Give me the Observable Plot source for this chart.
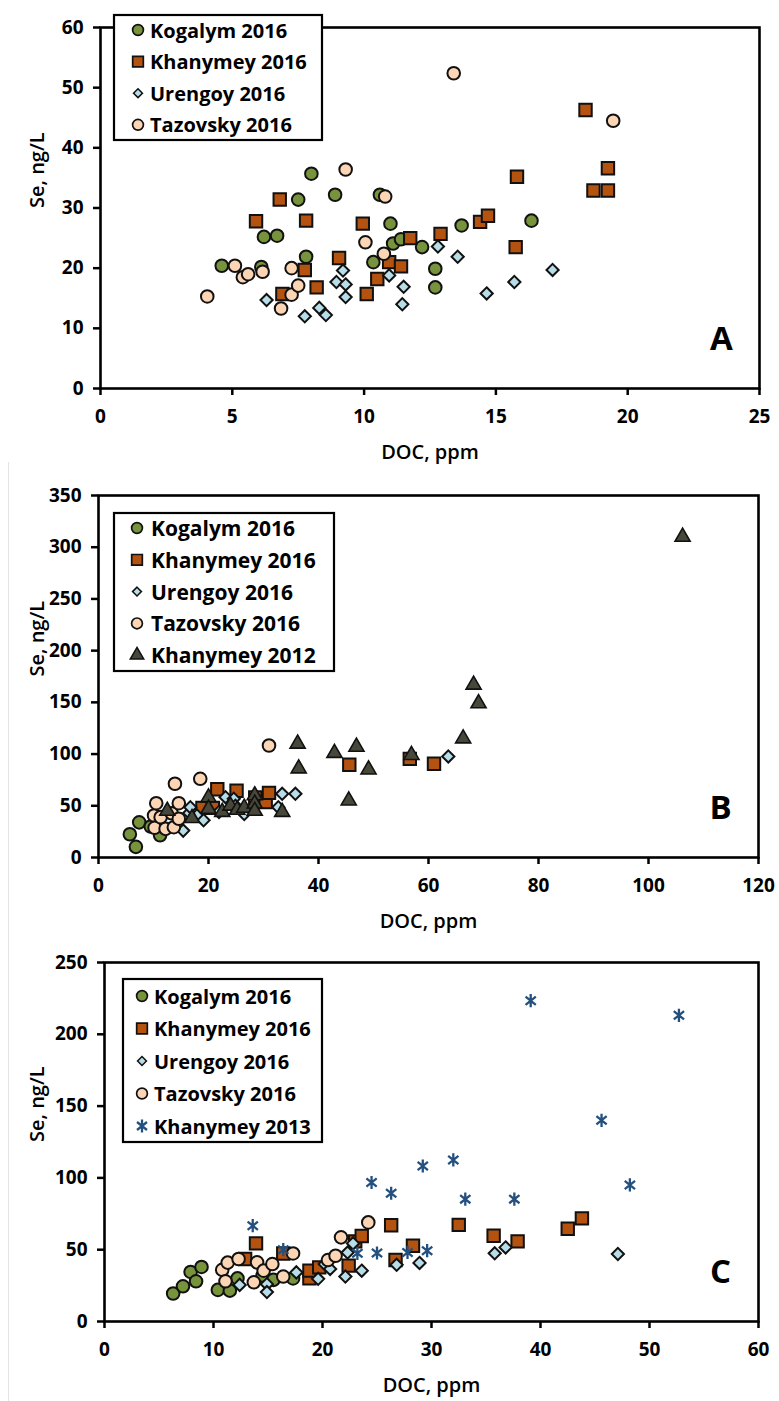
<!DOCTYPE html>
<html><head><meta charset="utf-8">
<script src="https://cdn.jsdelivr.net/npm/d3@7"></script>
<script src="https://cdn.jsdelivr.net/npm/@observablehq/plot@0.6"></script>
<style>
body{margin:0;background:#fff;width:779px;height:1401px;position:relative;overflow:hidden;font-family:"Open Sans",sans-serif}
.panel{position:absolute;left:0}
.legend{position:absolute;overflow:visible}
.edge{position:absolute;background:#e4e4e4}
</style></head><body>
<div class="edge" style="left:8px;top:462px;width:1px;height:939px"></div>
<div id="pA" class="panel" style="top:0px"></div>
<div id="pB" class="panel" style="top:465px"></div>
<div id="pC" class="panel" style="top:932px"></div>
<script>
// ---------- DATA (DOC ppm, Se ng/L) ----------
const seriesNames = ["Kogalym 2016","Khanymey 2016","Urengoy 2016","Tazovsky 2016","Khanymey 2012","Khanymey 2013"];

const A_kogalym = [[4.6,20.4],[6.1,20.2],[6.2,25.2],[6.7,25.4],[7.5,31.4],[7.8,21.9],[8.0,35.7],[8.9,32.2],[10.35,21.0],[10.6,32.2],[11.0,27.4],[11.1,24.1],[11.4,24.8],[12.2,23.5],[12.7,19.9],[12.7,16.8],[13.7,27.1],[16.35,27.9]];
const A_khanymey = [[5.9,27.8],[6.8,31.4],[6.9,15.7],[7.75,19.7],[7.8,27.9],[8.2,16.8],[9.05,21.7],[9.95,27.4],[10.1,15.7],[10.5,18.2],[10.95,21.0],[11.4,20.3],[11.75,25.0],[12.9,25.7],[14.4,27.7],[14.7,28.7],[15.75,23.5],[15.8,35.2],[18.4,46.3],[18.7,32.9],[19.25,32.9],[19.25,36.6]];
const A_urengoy = [[6.3,14.7],[7.75,12.0],[8.3,13.4],[8.55,12.2],[8.95,17.7],[9.2,19.6],[9.3,17.3],[9.3,15.2],[10.95,18.8],[11.5,16.9],[11.45,14.0],[12.8,23.6],[13.55,21.9],[14.65,15.8],[15.7,17.7],[17.15,19.7]];
const A_tazovsky = [[4.05,15.3],[5.1,20.4],[5.4,18.5],[5.6,19.0],[6.15,19.4],[6.85,13.3],[7.25,20.0],[7.25,15.6],[7.5,17.1],[9.3,36.4],[10.05,24.3],[10.75,22.4],[10.8,31.9],[13.4,52.4],[19.45,44.5]];

const B_kogalym = [[5.7,22.5],[6.8,10.3],[7.4,34],[9.5,30],[11.2,21.5]];
const B_khanymey = [[18.9,48],[20.8,48],[21.6,66],[25.1,64.5],[28.5,58],[30.4,53.5],[31,62.5],[45.6,89.6],[56.6,95.4],[61,90.6]];
const B_urengoy = [[15.4,26],[16.5,43],[16.7,48.6],[17.9,40.6],[19.1,36],[21.9,44],[23.1,58.3],[24.6,56.8],[24.9,50],[26.5,42],[32.7,48.6],[33.4,61.6],[35.8,61.6],[63.6,97.7]];
const B_tazovsky = [[10.1,40.6],[10.2,28.7],[10.5,52.5],[11.3,39],[12.2,27.7],[13.3,42.8],[13.7,29.3],[13.9,71.3],[14.6,52.5],[14.6,37.4],[18.5,76.1],[31,108.3]];
const B_khanymey2012 = [[12.5,45],[17,38],[20,58],[20,47],[22.5,44],[24,50],[25.2,46],[26.5,48],[28.4,60],[28.4,52],[28.4,45],[33.4,44],[36.2,110],[36.4,86],[42.9,101],[45.5,55],[46.9,107],[49.1,85],[56.9,99],[66.3,115],[68.2,167],[69.1,149],[106.2,310]];

const C_kogalym = [[6.3,19.5],[7.2,24.5],[7.9,34.5],[8.4,28],[8.9,38],[10.4,22],[11.5,21.5],[12.2,30],[14.5,32],[15.5,29],[17.3,30]];
const C_khanymey = [[12.9,43.5],[13.9,54.4],[16.4,47.4],[18.8,30],[18.8,35.4],[19.7,37.7],[22.4,38.9],[23.0,55.8],[23.6,59.5],[26.3,67],[26.7,42.8],[28.3,52.8],[32.5,67.3],[35.7,59.7],[37.9,55.8],[42.5,64.6],[43.8,71.8]];
const C_urengoy = [[12.4,25.5],[14.9,26],[14.9,20.5],[17.6,34.2],[19.6,29.7],[20.2,40],[20.7,36.6],[22.1,31.3],[22.3,48],[22.8,54.4],[23.6,35.4],[26.8,39.5],[28.9,40.8],[35.8,47.5],[36.8,51.6],[47.1,47]];
const C_tazovsky = [[10.8,36],[11.1,28],[11.3,41],[12.3,43.5],[13.7,27.3],[14.0,41.2],[14.6,35.4],[15.4,40],[16.4,31.3],[17.3,47.4],[20.5,42.8],[21.2,45.8],[21.7,58.6],[24.2,69]];
const C_khanymey2013 = [[13.6,66.7],[16.4,50],[23.2,47.5],[24.5,96.8],[25,47.7],[26.3,89.3],[27.8,48.1],[29.2,108.3],[29.6,49.3],[32,112.5],[33.1,85.2],[37.6,85.2],[39.1,223.4],[45.6,140.1],[48.2,95.1],[52.7,213.2]];

const A_xTicks = [0,5,10,15,20,25];
const A_yTicks = [0,10,20,30,40,50,60];
const B_xTicks = [0,20,40,60,80,100,120];
const B_yTicks = [0,50,100,150,200,250,300,350];
const C_xTicks = [0,10,20,30,40,50,60];
const C_yTicks = [0,50,100,150,200,250];

const xTitle = "DOC, ppm";
const yTitle = "Se, ng/L";

// Excel-style star marker: vertical bar plus an X
const starSymbol = {
  draw(context, size){
    const r = Math.sqrt(size/Math.PI), a = r*0.78;
    context.moveTo(0,-r); context.lineTo(0,r);
    context.moveTo(-a,-a*0.8); context.lineTo(a,a*0.8);
    context.moveTo(-a,a*0.8); context.lineTo(a,-a*0.8);
  }
};

// ---------- STYLES ----------
const STY = {
  "Kogalym 2016":  {symbol:"circle",   fill:"#77933C", stroke:"#111", sw:2,   r:6.3, lr:5.4, lsw:1.7},
  "Khanymey 2016": {symbol:"square",   fill:"#B4520F", stroke:"#111", sw:2,   r:7.0, lr:6.0, lsw:1.7},
  "Urengoy 2016":  {symbol:"diamond2", fill:"#B7DEE8", stroke:"#111", sw:2,   r:5.5, lr:4.0, lsw:1.5},
  "Tazovsky 2016": {symbol:"circle",   fill:"#FCD5B5", stroke:"#111", sw:2,   r:6.3, lr:5.4, lsw:1.7},
  "Khanymey 2012": {symbol:"triangle", fill:"#48483A", stroke:"#111", sw:1.6, r:5.6, lr:5.0, lsw:1.5},
  "Khanymey 2013": {symbol:"star",     fill:"none",    stroke:"#24507F", sw:2.3, r:6.6, lr:6.4, lsw:2.3}
};
const d3sym = {circle:d3.symbolCircle, square:d3.symbolSquare, diamond2:d3.symbolDiamond2, triangle:d3.symbolTriangle, star:starSymbol};
const plotSym = s => s === "star" ? starSymbol : s;

function panel(cfg){
  const {el,height,mt,mb,ml,mr,xDomain,xTicks,yDomain,yTicks,series,letter} = cfg;
  const marks = [
    Plot.axisX({ticks:xTicks, tickSize:7, tickPadding:14, strokeWidth:2.5, label:null, tickFormat:d=>String(d)}),
    Plot.axisY({ticks:yTicks, tickSize:7, tickPadding:10, strokeWidth:2.5, label:null, tickFormat:d=>String(d)}),
  ];
  series.forEach(([name,data])=>{
    const s = STY[name];
    marks.push(Plot.dot(data,{x:d=>d[0], y:d=>d[1], symbol:plotSym(s.symbol), r:s.r, fill:s.fill, stroke:s.stroke, strokeWidth:s.sw}));
  });
  marks.push(Plot.frame({stroke:"#000", strokeWidth:2.6}));
  marks.push(Plot.text([letter],{text:d=>d, frameAnchor:"bottom-right", dx:-38, dy:-49, fontSize:33, fontWeight:700, textAnchor:"middle", lineAnchor:"middle", fill:"#000"}));
  marks.push(Plot.text([xTitle],{text:d=>d, frameAnchor:"bottom", dy:64, fontSize:20, fontWeight:600, lineAnchor:"middle", fill:"#000"}));
  marks.push(Plot.text([yTitle],{text:d=>d, frameAnchor:"left", dx:37-ml, rotate:-90, fontSize:20, fontWeight:600, lineAnchor:"middle", fill:"#000"}));
  const chart = Plot.plot({
    width:779, height, marginTop:mt, marginBottom:mb, marginLeft:ml, marginRight:mr,
    x:{domain:xDomain}, y:{domain:yDomain},
    style:{fontFamily:"'Open Sans', sans-serif", fontSize:"19px", fontWeight:700, color:"#000", background:"transparent", overflow:"visible"},
    marks
  });
  document.getElementById(el).appendChild(chart);
}

function legend(cfg){
  const {left,top,w,h,names,y0,dy,mx,tx,fs} = cfg;
  const svg = d3.select("body").append("svg").attr("class","legend")
    .style("left",left+"px").style("top",top+"px").attr("width",w).attr("height",h);
  svg.append("rect").attr("x",1).attr("y",1).attr("width",w-2).attr("height",h-2)
    .attr("fill","#fff").attr("stroke","#000").attr("stroke-width",2.2);
  names.forEach((n,i)=>{
    const s = STY[n], cy = y0+i*dy;
    svg.append("path").attr("transform",`translate(${mx},${cy})`)
      .attr("d", d3.symbol().type(d3sym[s.symbol]).size(Math.PI*s.lr*s.lr)())
      .attr("fill",s.fill).attr("stroke",s.stroke).attr("stroke-width",s.lsw);
    svg.append("text").attr("x",tx).attr("y",cy).attr("dominant-baseline","central")
      .attr("font-family","'Open Sans', sans-serif").attr("font-weight",700).attr("font-size",fs)
      .attr("fill","#000").text(n);
  });
}

panel({el:"pA", height:465, mt:27, mb:77, ml:100, mr:20, xDomain:[0,25], xTicks:A_xTicks, yDomain:[0,60], yTicks:A_yTicks, letter:"A",
  series:[["Kogalym 2016",A_kogalym],["Khanymey 2016",A_khanymey],["Urengoy 2016",A_urengoy],["Tazovsky 2016",A_tazovsky]]});
panel({el:"pB", height:467, mt:30, mb:75, ml:98, mr:21, xDomain:[0,120], xTicks:B_xTicks, yDomain:[0,350], yTicks:B_yTicks, letter:"B",
  series:[["Kogalym 2016",B_kogalym],["Khanymey 2016",B_khanymey],["Urengoy 2016",B_urengoy],["Tazovsky 2016",B_tazovsky],["Khanymey 2012",B_khanymey2012]]});
panel({el:"pC", height:469, mt:30, mb:80, ml:104, mr:21, xDomain:[0,60], xTicks:C_xTicks, yDomain:[0,250], yTicks:C_yTicks, letter:"C",
  series:[["Kogalym 2016",C_kogalym],["Khanymey 2016",C_khanymey],["Urengoy 2016",C_urengoy],["Tazovsky 2016",C_tazovsky],["Khanymey 2013",C_khanymey2013]]});

legend({left:113, top:14, w:210, h:127, names:seriesNames.slice(0,4), y0:16, dy:31.6, mx:25, tx:37, fs:20});
legend({left:113, top:512, w:222, h:160, names:seriesNames.slice(0,5), y0:16, dy:31.8, mx:24, tx:38, fs:21});
legend({left:122, top:978, w:201, h:165, names:[...seriesNames.slice(0,4), seriesNames[5]], y0:18, dy:32.5, mx:20, tx:32, fs:20});
</script>
</body></html>
